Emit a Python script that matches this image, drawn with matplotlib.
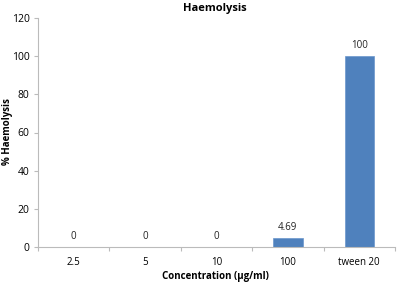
import numpy as np
import matplotlib.pyplot as plt

plt.rcParams['font.family'] = ['Open Sans', 'DejaVu Sans']

categories = ['2.5', '5', '10', '100', 'tween 20']
values = [0, 0, 0, 4.69, 100]
labels = ['0', '0', '0', '4.69', '100']

fig = plt.figure(figsize=(3.97, 2.83), dpi=100)
ax = fig.add_axes([38/397, 36/283, 357/397, 229/283])

x = np.arange(len(categories))
ax.bar(x, values, width=0.41, color='#4F81BD', edgecolor='#6A96CC', linewidth=0.5)
for xi, v, lab in zip(x, values, labels):
    ax.text(xi, v + 2.5, lab, ha='center', va='bottom', fontsize=7, color='#222222')

ax.set_xlim(-0.5, len(categories) - 0.5)
ax.set_ylim(0, 120)
ax.set_yticks(range(0, 121, 20))
ax.set_xticks(np.arange(len(categories) + 1) - 0.5, minor=True)
ax.set_xticks(x)
ax.set_xticklabels(categories)
ax.tick_params(axis='x', which='major', length=0, labelsize=7, pad=7)
ax.tick_params(axis='x', which='minor', length=3, color='#BBBBBB', width=0.8)
ax.tick_params(axis='y', length=3, color='#BBBBBB', width=0.8, labelsize=7.5, pad=3)

for s in ['top', 'right']:
    ax.spines[s].set_visible(False)
for s in ['left', 'bottom']:
    ax.spines[s].set_color('#BBBBBB')
    ax.spines[s].set_linewidth(0.8)

fig.text(215/397, 1 - 9/283, 'Haemolysis', fontsize=8, fontweight='bold', ha='center', va='center')
ax.set_xlabel('Concentration (µg/ml)', fontsize=7, fontweight='bold')
ax.xaxis.set_label_coords((215 - 38) / 357, -(276 - 247) / 229)
ax.set_ylabel('% Haemolysis', fontsize=7, fontweight='bold')
ax.yaxis.set_label_coords(-(38 - 8) / 357, (247 - 132) / 229)
ax.xaxis.label.set_va('center')
ax.yaxis.label.set_va('center')

fig.savefig('out.png', dpi=100)
